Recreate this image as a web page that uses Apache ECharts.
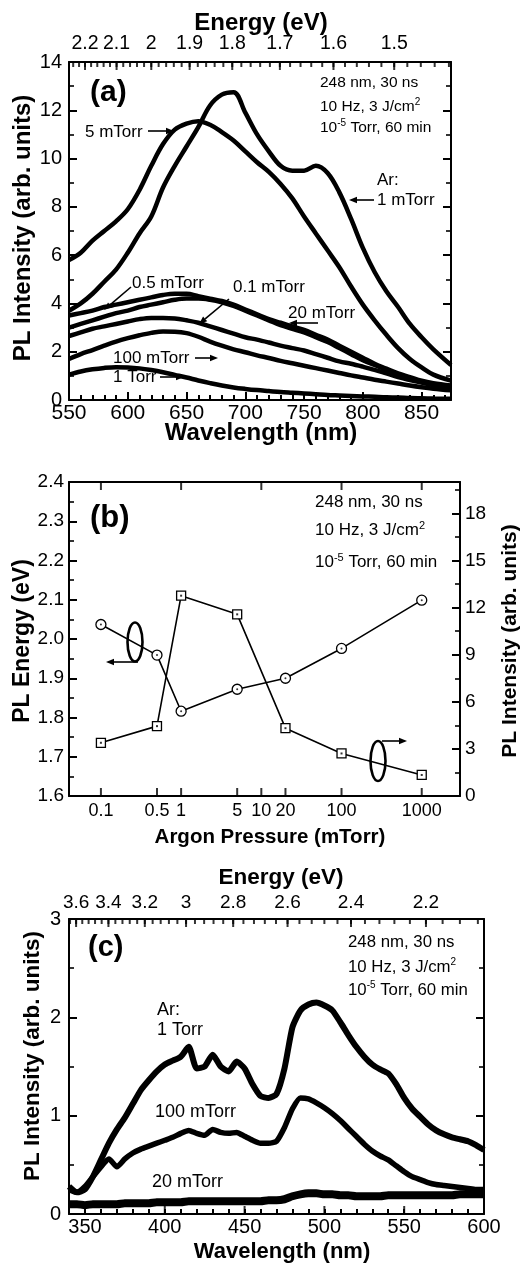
<!DOCTYPE html>
<html><head><meta charset="utf-8">
<script src="https://cdn.jsdelivr.net/npm/echarts@6/dist/echarts.min.js"></script>
<style>html,body{margin:0;padding:0;background:#fff;}#chart{width:525px;height:1266px;}</style>
</head><body><div id="chart"></div>
<script>
// ---------- Panel (a) data ----------
const wavelengthA = [550,560,570,580,590,600,610,620,630,640,650,660,670,680,690,700,710,720,730,740,750,760,770,780,790,800,810,820,830,840,850,860,875];
const a_1mTorr   = [3.7,4.0,4.4,4.9,5.4,6.1,6.9,7.6,8.8,9.7,10.5,11.3,12.2,12.65,12.75,11.9,11.0,10.3,9.7,9.5,9.5,9.7,9.4,8.6,7.5,6.3,5.3,4.5,3.85,3.15,2.6,2.1,1.45];
const a_5mTorr   = [5.8,6.1,6.6,7.0,7.4,7.9,8.7,9.7,10.6,11.2,11.45,11.55,11.4,11.1,10.75,10.3,9.85,9.45,8.95,8.35,7.6,6.9,6.2,5.5,4.7,3.95,3.3,2.7,2.15,1.7,1.35,1.05,0.8];
const a_05mTorr  = [3.5,3.6,3.7,3.85,3.95,4.05,4.15,4.25,4.35,4.4,4.4,4.3,4.2,4.1,3.95,3.75,3.55,3.35,3.2,3.05,2.9,2.7,2.5,2.25,2.0,1.75,1.5,1.3,1.1,0.95,0.8,0.7,0.6];
const a_20mTorr  = [3.0,3.15,3.3,3.45,3.6,3.7,3.85,3.95,4.05,4.15,4.2,4.2,4.15,4.05,3.9,3.7,3.5,3.3,3.1,2.95,2.8,2.6,2.4,2.15,1.9,1.65,1.45,1.25,1.05,0.9,0.75,0.65,0.55];
const a_01mTorr  = [2.65,2.8,2.95,3.05,3.15,3.25,3.35,3.4,3.4,3.38,3.3,3.2,3.05,2.9,2.75,2.6,2.5,2.38,2.25,2.15,2.05,1.9,1.75,1.6,1.5,1.38,1.25,1.1,0.95,0.83,0.72,0.62,0.5];
const a_100mTorr = [1.7,1.9,2.07,2.25,2.42,2.56,2.68,2.78,2.84,2.83,2.77,2.62,2.42,2.25,2.1,1.98,1.85,1.74,1.62,1.52,1.42,1.32,1.22,1.12,1.02,0.93,0.84,0.76,0.68,0.6,0.53,0.47,0.4];
const a_1Torr    = [1.05,1.18,1.27,1.33,1.36,1.35,1.31,1.24,1.15,1.04,0.93,0.81,0.7,0.6,0.52,0.46,0.41,0.37,0.33,0.3,0.27,0.24,0.21,0.19,0.17,0.15,0.13,0.11,0.1,0.08,0.07,0.06,0.05];
const wavelengthTicksA = [550,600,650,700,750,800,850];
const energyTicksA = [2.2,2.1,2.0,1.9,1.8,1.7,1.6,1.5];

// ---------- Panel (b) data ----------
const pressure    = [0.1,0.5,1,5,20,100,1000];
const plEnergy    = [2.037,1.959,1.816,1.872,1.900,1.976,2.099];
const plIntensity = [3.39,4.45,12.76,11.57,4.32,2.71,1.34];
const pressureTickLabels = [0.1,0.5,1,5,10,20,100,1000];
const pressureTopTicks = [0.1,1,10,100,1000];

// ---------- Panel (c) data ----------
const wavelengthC = [340,345,350,355,360,365,370,375,380,385,390,395,400,405,410,415,420,425,430,435,440,445,450,455,460,465,470,475,480,485,490,495,500,505,510,515,520,525,530,535,540,545,550,555,560,565,570,575,580,585,590,595,600];
const c_1Torr    = [0.28,0.22,0.25,0.38,0.55,0.72,0.86,0.98,1.12,1.26,1.36,1.45,1.52,1.56,1.6,1.7,1.48,1.5,1.62,1.5,1.45,1.55,1.48,1.32,1.2,1.18,1.22,1.48,1.9,2.07,2.13,2.15,2.12,2.07,1.95,1.82,1.7,1.6,1.52,1.47,1.43,1.32,1.18,1.07,0.99,0.91,0.85,0.81,0.78,0.76,0.74,0.7,0.65];
const c_100mTorr = [0.25,0.22,0.28,0.38,0.48,0.56,0.48,0.56,0.62,0.66,0.69,0.72,0.75,0.78,0.82,0.85,0.82,0.8,0.86,0.83,0.82,0.83,0.79,0.75,0.72,0.72,0.74,0.88,1.07,1.18,1.17,1.13,1.08,1.02,0.95,0.87,0.79,0.71,0.64,0.59,0.55,0.49,0.43,0.38,0.35,0.32,0.3,0.29,0.28,0.27,0.26,0.25,0.25];
const c_20mTorr  = [0.1,0.1,0.09,0.1,0.1,0.1,0.1,0.11,0.11,0.11,0.11,0.12,0.12,0.12,0.12,0.13,0.13,0.13,0.13,0.13,0.13,0.13,0.13,0.13,0.13,0.14,0.14,0.15,0.18,0.2,0.21,0.21,0.2,0.2,0.19,0.19,0.18,0.18,0.18,0.18,0.19,0.19,0.19,0.19,0.19,0.19,0.19,0.19,0.19,0.2,0.2,0.2,0.2];
const wavelengthTicksC = [350,400,450,500,550,600];
const energyTicksC = [3.6,3.4,3.2,3.0,2.8,2.6,2.4,2.2];

// ---------- helpers ----------
const HC = 1240;
const FONT = '"Liberation Sans", Arial, Helvetica, sans-serif';
const pairs = (xs, ys) => xs.map((x, i) => [x, ys[i]]);
const fmtE = v => String(Math.round(HC / v * 10) / 10);
function energyMinor(fromE, toE, step) {
  const out = [];
  for (let k = Math.round(fromE / step); k >= Math.round(toE / step); k--) out.push(HC / (k * step));
  return out;
}
const lineSty = {color: '#000', width: 2};
const tickSty = {color: '#000', width: 2};
const lbl = (size, margin, extra) => Object.assign({show: true, color: '#000', fontFamily: FONT, fontSize: size, margin: margin}, extra || {});
const noSplit = {show: false};
const AL = () => ({show: true, onZero: false, lineStyle: {color: '#000', width: 2}});
const NOAL = () => ({show: false, onZero: false});
const NOTICK = () => ({show: false});
const tick = (len) => ({show: true, inside: true, length: len, lineStyle: {color: '#000', width: 2}});
const minor = () => ({show: true, splitNumber: 2, length: 5, lineStyle: {color: '#000', width: 1.6}});

const logMin = 0.04, logMax = 3000;

const xAxes = [
  // 0: (a) bottom (data axis), major ticks every 50
  {type: 'value', gridIndex: 0, position: 'bottom', min: 550, max: 875, interval: 50, axisLine: AL(),
   axisTick: tick(8), axisLabel: lbl(21, 3, {customValues: wavelengthTicksA}), splitLine: noSplit},
  // 1: (a) bottom minor ticks every 10
  {type: 'value', gridIndex: 0, position: 'bottom', min: 550, max: 875, interval: 10, axisLine: NOAL(),
   axisTick: tick(5), axisLabel: {show: false}, splitLine: noSplit},
  // 2: (a) top energy labels
  {type: 'value', gridIndex: 0, position: 'top', min: 550, max: 875, axisLine: AL(), axisTick: NOTICK(),
   axisLabel: lbl(19.5, 8, {customValues: energyTicksA.map(e => HC / e), formatter: fmtE}), splitLine: noSplit},
  // 3: (b) log axis (data), drawn at top
  {type: 'log', logBase: 10, gridIndex: 1, position: 'top', min: logMin, max: logMax, axisLine: AL(),
   axisTick: NOTICK(), axisLabel: {show: false}, splitLine: noSplit, minorTick: {show: false}},
  // 4: (b) bottom labelled pressures
  {type: 'value', gridIndex: 1, position: 'bottom', min: Math.log10(logMin), max: Math.log10(logMax), axisLine: AL(),
   axisTick: NOTICK(),
   axisLabel: lbl(18, 6, {customValues: pressureTickLabels.map(p => Math.log10(p)),
     formatter: v => String(Math.round(Math.pow(10, v) * 10) / 10)}), splitLine: noSplit},
  // 5: (c) bottom (data axis), minor ticks every 10
  {type: 'value', gridIndex: 2, position: 'bottom', min: 340, max: 600, interval: 10, axisLine: AL(),
   axisTick: tick(5), axisLabel: lbl(20, 3, {customValues: wavelengthTicksC}), splitLine: noSplit},
  // 6: (c) top energy labels
  {type: 'value', gridIndex: 2, position: 'top', min: 340, max: 600, axisLine: AL(), axisTick: NOTICK(),
   axisLabel: lbl(19, 7, {customValues: energyTicksC.map(e => HC / e), formatter: fmtE}), splitLine: noSplit}
];

const yAxes = [
  {type: 'value', gridIndex: 0, position: 'left', min: 0, max: 14, interval: 2, axisLine: AL(),
   axisTick: tick(8), minorTick: minor(), axisLabel: lbl(20, 7), splitLine: noSplit},
  {type: 'value', gridIndex: 0, position: 'right', min: 0, max: 14, interval: 2, axisLine: AL(),
   axisTick: tick(8), minorTick: minor(), axisLabel: {show: false}, splitLine: noSplit},
  {type: 'value', gridIndex: 1, position: 'left', min: 1.6, max: 2.4, interval: 0.1, axisLine: AL(),
   axisTick: tick(8), minorTick: minor(), axisLabel: lbl(19, 5, {formatter: v => v.toFixed(1)}), splitLine: noSplit},
  {type: 'value', gridIndex: 1, position: 'right', min: 0, max: 20, interval: 3, axisLine: AL(),
   axisTick: tick(8), minorTick: minor(), axisLabel: lbl(19, 5, {showMaxLabel: false}), splitLine: noSplit},
  {type: 'value', gridIndex: 2, position: 'left', min: 0, max: 3, interval: 1, axisLine: AL(),
   axisTick: tick(8), minorTick: minor(), axisLabel: lbl(20, 8), splitLine: noSplit},
  {type: 'value', gridIndex: 2, position: 'right', min: 0, max: 3, interval: 1, axisLine: AL(),
   axisTick: tick(8), minorTick: minor(), axisLabel: {show: false}, splitLine: noSplit}
];

const curveA = (arr) => ({type: 'line', xAxisIndex: 0, yAxisIndex: 0, data: pairs(wavelengthA, arr),
  symbol: 'none', smooth: 0.35, silent: true, lineStyle: {color: '#000', width: 4.5}});
const curveC = (arr, w) => ({type: 'line', xAxisIndex: 5, yAxisIndex: 4, data: pairs(wavelengthC, arr),
  symbol: 'none', smooth: 0.2, silent: true, lineStyle: {color: '#000', width: w}});
// tick marks at non-uniform positions (energy scale, log pressure), placed through the axes' own scales
const tickMarks = (xIdx, yIdx, xs, yVal, len, dir) => ({type: 'scatter', xAxisIndex: xIdx, yAxisIndex: yIdx,
  data: xs.map(x => [x, yVal]), symbol: 'rect', symbolSize: [2, len], symbolOffset: [0, dir * len / 2],
  itemStyle: {color: '#000'}, silent: true, clip: false, z: 4});

const series = [
  curveA(a_1mTorr), curveA(a_5mTorr), curveA(a_05mTorr), curveA(a_20mTorr),
  curveA(a_01mTorr), curveA(a_100mTorr), curveA(a_1Torr),
  tickMarks(0, 0, energyTicksA.map(e => HC / e), 14, 8, 1),
  tickMarks(0, 0, energyMinor(2.24, 1.42, 0.02), 14, 5, 1),
  {type: 'line', xAxisIndex: 3, yAxisIndex: 2, data: pairs(pressure, plEnergy), symbol: 'circle', symbolSize: 10,
   itemStyle: {color: '#fff', borderColor: '#000', borderWidth: 1.3}, lineStyle: {color: '#000', width: 1.6}, silent: true, z: 3},
  {type: 'line', xAxisIndex: 3, yAxisIndex: 3, data: pairs(pressure, plIntensity), symbol: 'rect', symbolSize: 9,
   itemStyle: {color: '#fff', borderColor: '#000', borderWidth: 1.3}, lineStyle: {color: '#000', width: 1.6}, silent: true, z: 3},
  {type: 'scatter', xAxisIndex: 3, yAxisIndex: 2, data: pairs(pressure, plEnergy), symbol: 'circle', symbolSize: 2,
   itemStyle: {color: '#000'}, silent: true, z: 5},
  {type: 'scatter', xAxisIndex: 3, yAxisIndex: 3, data: pairs(pressure, plIntensity), symbol: 'rect', symbolSize: 2,
   itemStyle: {color: '#000'}, silent: true, z: 5},
  tickMarks(3, 2, pressureTickLabels, 1.6, 8, -1),
  tickMarks(3, 2, pressureTopTicks, 2.4, 8, 1),
  curveC(c_1Torr, 6), curveC(c_100mTorr, 5.5), curveC(c_20mTorr, 8),
  tickMarks(5, 4, wavelengthTicksC, 0, 8, -1),
  tickMarks(5, 4, energyTicksC.map(e => HC / e), 3, 8, 1),
  tickMarks(5, 4, energyMinor(3.64, 2.08, 0.04), 3, 5, 1)
];

// ---------- annotations ----------
function T(text, x, y, size, opts) {
  const st = Object.assign({text: text, fill: '#000', fontFamily: FONT, fontSize: size,
    align: 'left', verticalAlign: 'middle', textAlign: 'left', textVerticalAlign: 'middle'}, opts || {});
  return {type: 'text', x: x, y: y, silent: true, z: 100, style: st};
}
function TC(text, x, y, size, rot) {
  const e = T(text, x, y, size, {fontWeight: 'bold', align: 'center', textAlign: 'center'});
  if (rot) e.rotation = rot;
  return e;
}
function arrow(x1, y1, x2, y2) {
  const dx = x2 - x1, dy = y2 - y1, L = Math.hypot(dx, dy), ux = dx / L, uy = dy / L;
  const hl = 8, hw = 3.2, bx = x2 - ux * hl, by = y2 - uy * hl;
  return [
    {type: 'line', silent: true, z: 100, shape: {x1: x1, y1: y1, x2: bx, y2: by}, style: {stroke: '#000', lineWidth: 1.6}},
    {type: 'polygon', silent: true, z: 100, shape: {points: [[x2, y2], [bx - uy * hw, by + ux * hw], [bx + uy * hw, by - ux * hw]]}, style: {fill: '#000'}}
  ];
}
const supRich = (fs) => ({s: {fontSize: Math.round(fs * 0.62), lineHeight: 10, verticalAlign: 'top', fontFamily: FONT, fill: '#000'}});
function condText(x, y0, y1, y2, fs) {
  return [
    T('248 nm, 30 ns', x, y0, fs, {lineHeight: 20}),
    T('10 Hz, 3 J/cm{s|2}', x, y1, fs, {lineHeight: 20, rich: supRich(fs)}),
    T('10{s|-5} Torr, 60 min', x, y2, fs, {lineHeight: 20, rich: supRich(fs)})
  ];
}

const graphic = [].concat(
  // panel (a)
  [TC('Energy (eV)', 261, 23, 24), TC('PL Intensity (arb. units)', 23, 228, 24, Math.PI / 2),
   TC('Wavelength (nm)', 261, 433, 24),
   T('(a)', 90, 93, 30, {fontWeight: 'bold'})],
  condText(320, 83, 107, 128, 15.5),
  [T('5 mTorr', 85, 132, 17)], arrow(148, 131, 174, 131),
  [T('Ar:', 377, 180, 17), T('1 mTorr', 377, 200, 17)], arrow(374, 200, 349, 200),
  [T('0.5 mTorr', 132, 283, 17)], arrow(131, 287, 104, 310),
  [T('0.1 mTorr', 233, 287, 17)], arrow(229, 299, 199, 324),
  [T('20 mTorr', 288, 313, 17)], arrow(318, 323, 289, 323),
  [T('100 mTorr', 113, 358, 17)], arrow(195, 358, 218, 358),
  [T('1 Torr', 113, 377, 17)], arrow(160, 377, 184, 377),
  // panel (b)
  [TC('PL Energy (eV)', 23, 641, 23, Math.PI / 2), TC('PL Intensity (arb. units)', 510, 641, 21, Math.PI / 2),
   TC('Argon Pressure (mTorr)', 270, 837, 20.5),
   T('(b)', 90, 518, 31, {fontWeight: 'bold'})],
  condText(315, 502, 530, 562, 17),
  [{type: 'ellipse', silent: true, z: 100, shape: {cx: 135, cy: 642, rx: 7.5, ry: 19.5}, style: {fill: 'none', stroke: '#000', lineWidth: 2.6}}],
  arrow(138, 662, 106, 662),
  [{type: 'ellipse', silent: true, z: 100, shape: {cx: 378, cy: 761, rx: 7.5, ry: 20}, style: {fill: 'none', stroke: '#000', lineWidth: 2.6}}],
  arrow(382, 741, 407, 741),
  // panel (c)
  [TC('Energy (eV)', 281, 878, 22.5), TC('PL Intensity (arb. units)', 33, 1056, 22.5, Math.PI / 2),
   TC('Wavelength (nm)', 282, 1252, 22),
   T('(c)', 88, 948, 29, {fontWeight: 'bold'})],
  condText(348, 942, 967, 990, 16.8),
  [T('Ar:', 157, 1010, 18), T('1 Torr', 157, 1030, 18), T('100 mTorr', 155, 1112, 18), T('20 mTorr', 152, 1182, 18)]
);

const chart = echarts.init(document.getElementById('chart'), null, {renderer: 'canvas'});
chart.setOption({
  animation: false,
  backgroundColor: '#fff',
  textStyle: {fontFamily: FONT},
  grid: [
    {left: 69, top: 62, width: 382, height: 338, containLabel: false, outerBoundsMode: 'none'},
    {left: 69, top: 482, width: 391, height: 314, containLabel: false, outerBoundsMode: 'none'},
    {left: 69, top: 919, width: 415, height: 295, containLabel: false, outerBoundsMode: 'none'}
  ],
  xAxis: xAxes,
  yAxis: yAxes,
  series: series,
  graphic: graphic
});
</script>
</body></html>
